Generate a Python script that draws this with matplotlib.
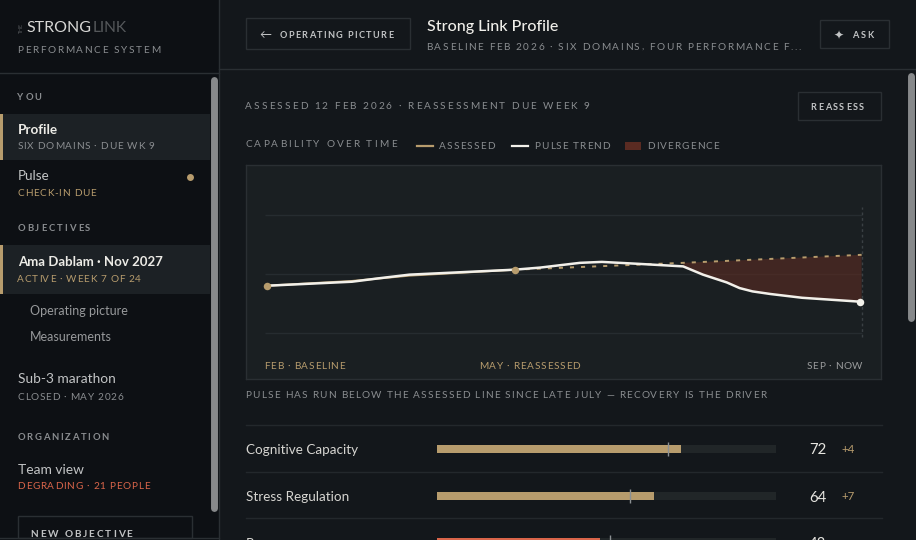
import numpy as np
import matplotlib
matplotlib.use('Agg')
import matplotlib.pyplot as plt
from matplotlib.patches import Rectangle
from matplotlib.text import Text
from matplotlib.transforms import IdentityTransform

plt.rcParams['font.family'] = ['Lato', 'DejaVu Sans']

# chart data, x in weeks since the Feb baseline
assessed_weeks = [0, 4.3, 7.2, 12.5]
assessed_scores = [44.9, 46.9, 49.2, 51.7]
planned_weeks = [12.5, 21, 30]
planned_scores = [51.7, 54.6, 58.0]
pulse_weeks = [0, 4.3, 5.7, 7.2, 12.5, 13.8, 14.8, 15.8, 16.9, 18.7, 21, 22, 23.2, 23.85, 24.5, 25.4, 27, 30]
pulse_scores = [44.9, 46.6, 48.1, 49.6, 51.7, 52.6, 53.6, 54.6, 55.0, 54.2, 53.1, 49.6, 46.3, 43.9, 42.5, 41.4, 39.8, 38.1]
grid_scores = [25, 50, 75]
milestone_weeks = [0, 12.5]
milestone_scores = [44.9, 51.7]

# domain rows
domains = ['Cognitive Capacity', 'Stress Regulation', 'Recovery']
domain_scores = [72, 64, 48]
domain_baseline = [68, 57, 51]
domain_deltas = ['+4', '+7', '\u22123']

BG = '#13171b'
SIDE = '#0d1014'
ACTIVE = '#1c2125'
PANEL = '#1a1f22'
LINE = '#2a2f33'
TAN = '#b79c6d'
RED = '#d9654a'
WHITE = '#f2f0ea'
TXT = '#c2c4c5'
DIM = '#8a8d90'
SCROLL = '#87898b'


class TrackedText(Text):
    # matplotlib has no letter spacing, so lay out the string glyph by glyph
    def __init__(self, x, y, s, track=0, **kw):
        super().__init__(x, y, s, **kw)
        self.track = track

    def draw(self, renderer):
        if not self.track:
            super().draw(renderer)
            return
        s = self.get_text()
        px, py = self.get_transform().transform(self.get_position())
        prop = self.get_fontproperties()
        for i, ch in enumerate(s):
            w = renderer.get_text_width_height_descent(s[:i], prop, False)[0] if i else 0
            t = Text(px + w + i * self.track, py, ch, color=self.get_color(), fontproperties=prop,
                     va='baseline', ha='left', transform=IdentityTransform())
            t.set_figure(self.figure)
            t.set_clip_on(False)
            t.draw(renderer)


fig = plt.figure(figsize=(9.16, 5.40), dpi=100, facecolor=BG)

ui = fig.add_axes([0, 0, 1, 1], zorder=1)
ui.set_xlim(0, 916)
ui.set_ylim(540, 0)
ui.axis('off')


def box(x0, y0, x1, y1, fc='none', ec='none', lw=1, z=1):
    ui.add_patch(Rectangle((x0, y0), x1 - x0, y1 - y0, fc=fc, ec=ec, lw=lw, zorder=z))


def outline(x0, y0, x1, y1):
    box(x0 - 0.3, y0 - 0.3, x1 - 0.3, y1 - 0.3, ec=LINE)


def label(x, y, s, px=10, color=TXT, track=0, weight='normal'):
    if track:
        x = x - 0.7
    t = TrackedText(x, y, s, track=track, color=color, fontsize=px * 0.72, fontweight=weight)
    ui.add_artist(t)
    return t


# sidebar
box(0, 0, 219, 540, fc=SIDE)
ui.plot([219.2, 219.2], [0, 540], color=LINE, lw=1)
ui.plot([0, 219], [73.2, 73.2], color=LINE, lw=1)
ui.plot([0, 219], [538.2, 538.2], color=LINE, lw=1)
ui.plot([219, 916], [69.2, 69.2], color=LINE, lw=1)
box(0, 114, 210, 160, fc=ACTIVE)
box(0, 114, 3, 160, fc=TAN)
box(0, 245, 210, 294, fc=ACTIVE)
box(0, 245, 3, 294, fc=TAN)
ui.plot([213.5, 213.5], [79.5, 507.5], color=SCROLL, lw=5, solid_capstyle='round')
ui.plot([910.5, 910.5], [75.5, 317.5], color=SCROLL, lw=5, solid_capstyle='round')
box(18.2, 516.2, 192.2, 538, ec=LINE)

ui.text(24, 33, 'THE', fontsize=3.8, color='#55585b', rotation=90, ha='right', va='bottom')
label(26, 32, 'STRONG', 16, '#d8d8d6')
label(93, 32, 'LINK', 15.5, '#55585b')
label(18, 53, 'PERFORMANCE SYSTEM', 10, DIM, 1.7)
label(18, 100, 'YOU', 9.5, DIM, 1.8, 'bold')
label(18, 134, 'Profile', 13.5, '#ecebe6', 0, 'bold')
label(18, 149, 'SIX DOMAINS \u00b7 DUE WK 9', 10, DIM, 0.75)
label(18, 180, 'Pulse', 13.5, TXT)
label(18, 196, 'CHECK-IN DUE', 10, TAN, 0.75)
ui.plot([189.5], [176.5], 'o', ms=5, mfc=TAN, mec='none')
label(18, 231, 'OBJECTIVES', 9.5, DIM, 2, 'bold')
label(18, 266, 'Ama Dablam \u00b7 Nov 2027', 13.2, '#ecebe6', 0, 'bold')
label(18, 282, 'ACTIVE \u00b7 WEEK 7 OF 24', 10, TAN, 0.75)
label(30, 315, 'Operating picture', 12.5, '#97999b')
label(30, 341, 'Measurements', 12.5, '#97999b')
label(18, 383, 'Sub-3 marathon', 13.8, TXT)
label(18, 400, 'CLOSED \u00b7 MAY 2026', 10, DIM, 0.75)
label(18, 440, 'ORGANIZATION', 9.5, DIM, 1.7, 'bold')
label(18, 474, 'Team view', 13.8, TXT)
label(18, 489, 'DEGRADING \u00b7 21 PEOPLE', 10, RED, 0.75)
label(31, 537, 'NEW OBJECTIVE', 10, TXT, 1.9, 'bold')

# header
outline(246.5, 18.5, 410.5, 49.5)
label(259, 38, '\u2190', 12, TXT)
label(280, 38, 'OPERATING PICTURE', 9.2, TXT, 1.35, 'bold')
label(427, 31, 'Strong Link Profile', 16, '#f0efea', 0, 500)
label(427, 50, 'BASELINE FEB 2026 \u00b7 SIX DOMAINS, FOUR PERFORMANCE F...', 10, DIM, 1.65)
outline(820.5, 20.5, 889.5, 48.5)
label(834, 38.5, '\u2726', 12, TXT)
label(853, 38, 'ASK', 9.2, TXT, 1.8, 'bold')

label(246, 109, 'ASSESSED 12 FEB 2026 \u00b7 REASSESSMENT DUE WEEK 9', 10, DIM, 2.05)
outline(798.5, 92.5, 881.5, 120.5)
label(811, 110, 'REASSESS', 9.2, TXT, 1.6, 'bold')

# legend
label(246, 147, 'CAPABILITY OVER TIME', 10, DIM, 2.15)
ui.plot([417, 433], [146, 146], color=TAN, lw=1.6)
label(440, 149, 'ASSESSED', 10, DIM, 1.05)
ui.plot([512, 528], [146, 146], color=WHITE, lw=1.6)
label(535, 149, 'PULSE TREND', 10, DIM, 1.05)
box(625, 142, 641, 150, fc='#5a2b22')
label(648, 149, 'DIVERGENCE', 10, DIM, 1.05)

# chart panel, same pixel frame as the reference (x 246-882, y 165-380); sits under the ui text
ax = fig.add_axes([245.7 / 916, 1 - 379.2 / 540, 635.5 / 916, 214.5 / 540], zorder=0.5)
ax.set_facecolor(PANEL)
ax.set_xlim((246 - 267) / 19.83, (881.5 - 267) / 19.83)
ax.set_ylim(50 - (379.5 - 274) * 25 / 59, 50 + (274 - 165) * 25 / 59)
ax.set_xticks([])
ax.set_yticks([])
for sp in ax.spines.values():
    sp.set_color(LINE)
    sp.set_linewidth(1)

ax.hlines(grid_scores, -0.1, 30, color='#262c30', lw=1, zorder=1)
ax.vlines(30, 23.3, 78.4, color='#3a4044', lw=1, linestyles=(0, (2, 2)), zorder=1)

# divergence: planned line on top, pulse coming back along the bottom
start = pulse_weeks.index(21)
div_x = planned_weeks[1:] + pulse_weeks[:start - 1:-1]
div_y = planned_scores[1:] + pulse_scores[:start - 1:-1]
ax.fill(div_x, div_y, color='#5a2b22', alpha=0.62, lw=0, zorder=2)

ax.plot(assessed_weeks, assessed_scores, color=TAN, lw=1.5, zorder=3)
ax.plot(planned_weeks, planned_scores, color=TAN, lw=1.4, linestyle=(0, (2.1, 3.6)), zorder=3)
ax.plot(pulse_weeks, pulse_scores, color=WHITE, lw=1.8, zorder=4, solid_joinstyle='round')
ax.plot(milestone_weeks, milestone_scores, 'o', ms=5.4, mfc=TAN, mec='none', zorder=5)
ax.plot(pulse_weeks[-1] - 0.1, pulse_scores[-1], 'o', ms=5.4, mfc=WHITE, mec='none', zorder=5)

label(265, 369, 'FEB \u00b7 BASELINE', 10, TAN, 0.75)
label(480, 369, 'MAY \u00b7 REASSESSED', 10, TAN, 0.75)
label(807, 369, 'SEP \u00b7 NOW', 10, '#9a9c9d', 0.65)
label(246, 398, 'PULSE HAS RUN BELOW THE ASSESSED LINE SINCE LATE JULY \u2014 RECOVERY IS THE DRIVER', 10, DIM, 1.25)

# domain rows
row_lines = [425.2, 472.2, 518.2]
row_y = [449, 496, 542]
text_y = [453.5, 501, 548]
for yy in row_lines:
    ui.plot([246, 881.5], [yy, yy], color='#23282c', lw=1)

bars = fig.add_axes([0, 0, 1, 1], zorder=3)
bars.axis('off')
bars.set_xlim(-437 / 3.39, (916 - 437) / 3.39)
bars.set_ylim(540, 0)
bars.barh(row_y, [100] * 3, height=8, color='#212628', zorder=1)
for i in range(3):
    col = TAN if domain_deltas[i].startswith('+') else RED
    bars.barh(row_y[i], domain_scores[i], height=8, color=col, zorder=2)
    bars.vlines(domain_baseline[i], row_y[i] - 7, row_y[i] + 7, color='#8b9093', lw=1, zorder=3)
    label(246, text_y[i], domains[i], 13.5, '#d6d5d1')
    ui.text(826, text_y[i] + 0.5, str(domain_scores[i]), ha='right', va='baseline', fontsize=15 * 0.72, color='#e6e5e0')
    ui.text(841.5, text_y[i] - 0.5, domain_deltas[i], ha='left', va='baseline', fontsize=11.5 * 0.72, color=col)

fig.savefig('out.png', dpi=100, facecolor=BG)
